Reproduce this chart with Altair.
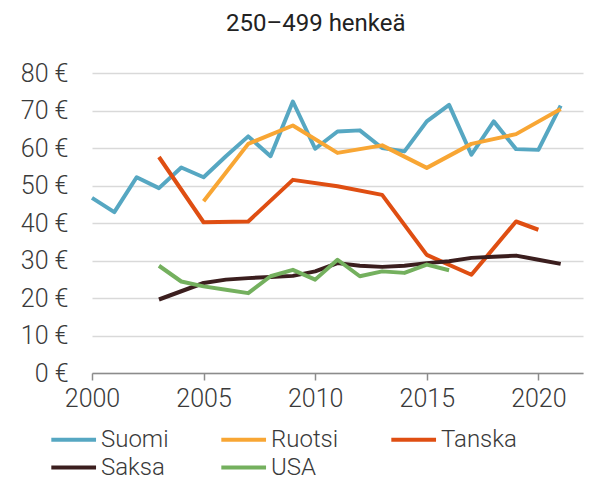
import altair as alt
import pandas as pd

series_names = ["Suomi", "Ruotsi", "Tanska", "Saksa", "USA"]
colors = ["#56a7c2", "#f8a634", "#df4e12", "#3b1e1e", "#74b05e"]

suomi_years = list(range(2000, 2022))
suomi_vals = [46.7, 42.9, 52.2, 49.3, 54.8, 52.2, 57.8, 63.1, 57.8, 72.4, 59.8,
              64.4, 64.7, 60.0, 59.1, 67.1, 71.5, 58.2, 67.1, 59.7, 59.5, 71.3]

ruotsi_years = [2005, 2007, 2009, 2011, 2013, 2015, 2017, 2019, 2021]
ruotsi_vals = [45.8, 61.1, 66.0, 58.7, 60.7, 54.7, 61.1, 63.7, 70.4]

tanska_years = [2003, 2005, 2007, 2009, 2011, 2013, 2015, 2017, 2019, 2020]
tanska_vals = [57.6, 40.2, 40.4, 51.5, 49.8, 47.5, 31.5, 26.2, 40.4, 38.2]

saksa_years = list(range(2003, 2022))
saksa_vals = [19.6, 21.8, 24.0, 24.9, 25.3, 25.6, 25.9, 27.1, 29.3, 28.6, 28.3,
              28.6, 29.3, 29.8, 30.7, 31.0, 31.3, 30.2, 29.1]

usa_years = list(range(2003, 2017))
usa_vals = [28.6, 24.4, 23.1, 22.2, 21.3, 25.8, 27.5, 24.9, 30.2, 25.8, 27.1,
            26.7, 28.9, 27.4]

y_ticks = [0, 10, 20, 30, 40, 50, 60, 70, 80]
x_ticks = [2000, 2005, 2010, 2015, 2020]

rows = []
for name, yrs, vals in [
    ("Suomi", suomi_years, suomi_vals),
    ("Ruotsi", ruotsi_years, ruotsi_vals),
    ("Tanska", tanska_years, tanska_vals),
    ("Saksa", saksa_years, saksa_vals),
    ("USA", usa_years, usa_vals),
]:
    for yr, v in zip(yrs, vals):
        rows.append({"maa": name, "vuosi": yr, "arvo": v})
df = pd.DataFrame(rows)

FONT = "Roboto"
TXT = "#3a3a3a"
W = 300

chart = alt.Chart(df).mark_line(strokeWidth=4, strokeJoin="round", strokeCap="butt").encode(
    x=alt.X("vuosi:Q",
            scale=alt.Scale(domain=[2000, 2022], nice=False, zero=False),
            axis=alt.Axis(values=x_ticks, format="d", title=None, grid=False,
                          domain=True, domainColor="#8c8c8c", domainWidth=1.5,
                          ticks=True, tickColor="#8c8c8c", tickSize=7, tickWidth=1.5,
                          labelFontSize=25, labelColor=TXT, labelFont=FONT,
                          labelFontWeight=W,
                          labelFlush=False, labelPadding=6)),
    y=alt.Y("arvo:Q",
            scale=alt.Scale(domain=[0, 80], nice=False),
            axis=alt.Axis(values=y_ticks, labelExpr="datum.value + ' €'", title=None,
                          grid=True, gridColor="#d9d9d9", gridWidth=1.5,
                          domain=False, ticks=False,
                          labelFontSize=25, labelColor=TXT, labelFont=FONT,
                          labelFontWeight=W, labelPadding=24)),
    color=alt.Color("maa:N",
                    scale=alt.Scale(domain=series_names, range=colors),
                    sort=series_names,
                    legend=alt.Legend(title=None, orient="none", legendX=-43, legendY=353,
                                      direction="horizontal", columns=3,
                                      symbolType="M-1,0H3", symbolSize=500,
                                      symbolStrokeWidth=4, labelFontSize=24,
                                      labelFont=FONT, labelColor=TXT,
                                      labelFontWeight=W,
                                      labelOffset=25, columnPadding=36, rowPadding=2,
                                      gridAlign="all")),
    order=alt.Order("vuosi:Q"),
).properties(
    width=491,
    height=300,
    title=alt.TitleParams("250–499 henkeä", anchor="start", frame="group", dx=134,
                          fontSize=24, fontWeight="normal", font=FONT, color="#222222",
                          offset=25),
    padding={"left": 84, "top": 65, "right": 8, "bottom": 108},
    autosize=alt.AutoSizeParams(type="none"),
).configure_view(stroke=None)

chart.save("out.html", embed_options={"renderer": "svg", "actions": False})
